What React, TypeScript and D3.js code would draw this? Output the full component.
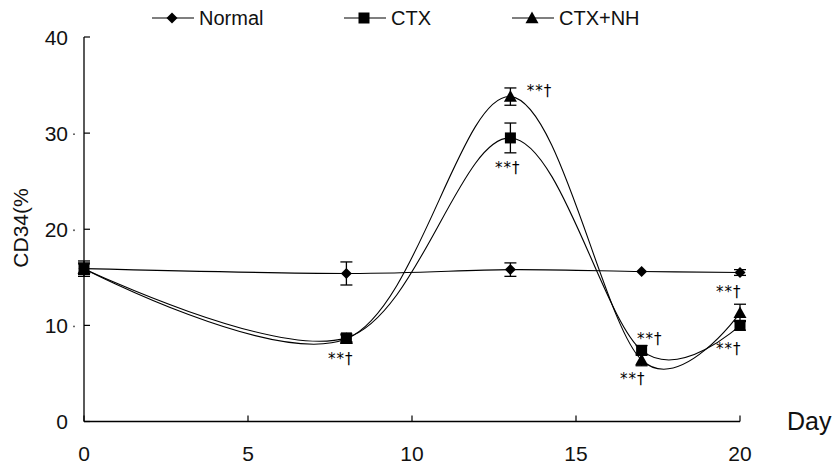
import React from "react";
import * as d3 from "d3";

const days = [0, 8, 13, 17, 20];
const normal = [15.9, 15.4, 15.8, 15.6, 15.5];
const normalErr = [0.8, 1.2, 0.7, 0.15, 0.3];
const ctx = [15.9, 8.7, 29.5, 7.4, 10.0];
const ctxErr = [0.6, 0.4, 1.55, 0.5, 0.5];
const ctxNh = [15.9, 8.6, 33.8, 6.4, 11.3];
const ctxNhErr = [0.5, 0.4, 0.9, 0.6, 0.9];
const xTicks = [0, 5, 10, 15, 20];
const yTicks = [0, 10, 20, 30, 40];
const seriesNames = ["Normal", "CTX", "CTX+NH"];
// annotation text anchors in data units (day, value)
const annDays = [7.44, 13.5, 12.53, 16.86, 16.34, 19.27, 19.27];
const annValues = [6.0, 33.9, 25.8, 8.1, 3.9, 12.9, 7.05];
const annText = "**\u2020";

const W = 834;
const H = 468;
const FONT = "'Liberation Sans', Arial, Helvetica, sans-serif";

const x = d3.scaleLinear().domain([0, 20]).range([84, 740]);
const y = d3.scaleLinear().domain([0, 40]).range([421.5, 37]);

const line = d3
  .line<[number, number]>()
  .x((d) => x(d[0]))
  .y((d) => y(d[1]))
  .curve(d3.curveCatmullRom.alpha(0));

function Marker({ kind, cx, cy }: { kind: number; cx: number; cy: number }) {
  if (kind === 0) {
    const s = 5.5;
    return (
      <path
        d={`M${cx},${cy - s}L${cx + s},${cy}L${cx},${cy + s}L${cx - s},${cy}Z`}
        fill="#000"
      />
    );
  }
  if (kind === 1) {
    const s = 5.5;
    return <rect x={cx - s} y={cy - s} width={2 * s} height={2 * s} fill="#000" />;
  }
  const s = 6.5;
  return (
    <path
      d={`M${cx},${cy - s}L${cx + s},${cy + s * 0.8}L${cx - s},${cy + s * 0.8}Z`}
      fill="#000"
    />
  );
}

export default function App() {
  const all = [normal, ctx, ctxNh];
  const errs = [normalErr, ctxErr, ctxNhErr];
  const legendX = [152, 344, 512];
  const legendY = 18;

  return (
    <svg
      width={W}
      height={H}
      style={{ position: "absolute", left: 0, top: 0, background: "#fff" }}
      fontFamily={FONT}
    >
      <rect width={W} height={H} fill="#fff" />
      {/* axes */}
      <line x1={x(0)} x2={x(0)} y1={y(40)} y2={y(0)} stroke="#000" strokeWidth={1.3} />
      <line x1={x(0)} x2={x(20)} y1={y(0)} y2={y(0)} stroke="#000" strokeWidth={1.3} />
      {yTicks.map((t) => (
        <g key={"yt" + t}>
          <line x1={x(0)} x2={x(0) + 6} y1={y(t)} y2={y(t)} stroke="#000" strokeWidth={1.2} />
          <text x={68} y={y(t)} dy="0.36em" textAnchor="end" fontSize={21} fill="#111">
            {t}
          </text>
          {t > 0 && t < 40 ? <circle cx={74} cy={y(t) + 1} r={0.9} fill="#444" /> : null}
        </g>
      ))}
      {xTicks.map((t) => (
        <g key={"xt" + t}>
          <line x1={x(t)} x2={x(t)} y1={y(0)} y2={y(0) - 6} stroke="#000" strokeWidth={1.2} />
          <text x={x(t)} y={461} textAnchor="middle" fontSize={21} fill="#111">
            {t}
          </text>
        </g>
      ))}
      <text x={787} y={430} fontSize={25} fill="#111">
        Day
      </text>
      <text
        transform={`translate(28,${228}) rotate(-90)`}
        textAnchor="middle"
        fontSize={21}
        fill="#111"
      >
        CD34(%
      </text>

      {/* series */}
      {all.map((vals, si) => (
        <g key={"s" + si}>
          <path
            d={line(days.map((d, i) => [d, vals[i]] as [number, number])) || ""}
            fill="none"
            stroke="#000"
            strokeWidth={1.1}
          />
          {days.map((d, i) => {
            const e = errs[si][i];
            if (e < 0.3) return null;
            return (
              <g key={"e" + i} stroke="#000" strokeWidth={1.3}>
                <line x1={x(d)} x2={x(d)} y1={y(vals[i] - e)} y2={y(vals[i] + e)} />
                <line x1={x(d) - 6} x2={x(d) + 6} y1={y(vals[i] - e)} y2={y(vals[i] - e)} />
                <line x1={x(d) - 6} x2={x(d) + 6} y1={y(vals[i] + e)} y2={y(vals[i] + e)} />
              </g>
            );
          })}
          {days.map((d, i) => (
            <Marker key={"m" + i} kind={si} cx={x(d)} cy={y(vals[i])} />
          ))}
        </g>
      ))}

      {/* annotations */}
      {annDays.map((d, i) => (
        <text
          key={"a" + i}
          x={x(d)}
          y={y(annValues[i])}
          fontSize={15}
          fill="#000"
          letterSpacing={1}
          fontFamily="'DejaVu Sans', sans-serif"
        >
          {annText}
        </text>
      ))}

      {/* legend */}
      {seriesNames.map((n, i) => (
        <g key={"l" + n}>
          <line
            x1={legendX[i]}
            x2={legendX[i] + 42}
            y1={legendY}
            y2={legendY}
            stroke="#000"
            strokeWidth={1.2}
          />
          <Marker kind={i} cx={legendX[i] + 20} cy={legendY} />
          <text x={legendX[i] + 47} y={legendY} dy="0.36em" fontSize={20} fill="#111">
            {n}
          </text>
        </g>
      ))}
    </svg>
  );
}
